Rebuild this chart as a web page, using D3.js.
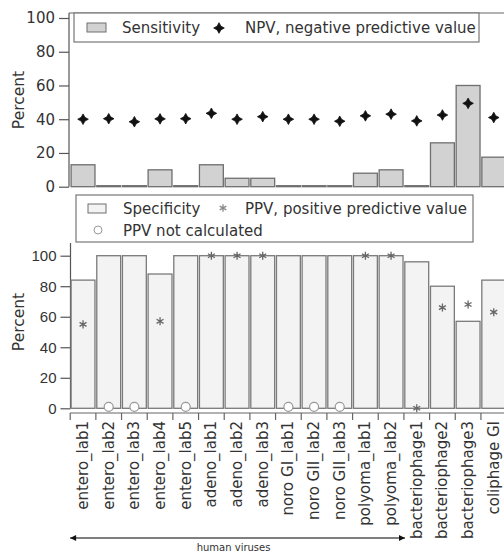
<!DOCTYPE html>
<html><head><meta charset="utf-8">
<script src="https://cdn.jsdelivr.net/npm/d3@7"></script>
<style>body{margin:0;background:#fff}svg{display:block;font-family:"DejaVu Sans",Verdana,sans-serif}</style>
</head><body>
<svg id="c" width="504" height="553"></svg>
<script>
const categories = ["entero_lab1","entero_lab2","entero_lab3","entero_lab4","entero_lab5","adeno_lab1","adeno_lab2","adeno_lab3","noro GI_lab1","noro GII_lab2","noro GII_lab3","polyoma_lab1","polyoma_lab2","bacteriophage1","bacteriophage2","bacteriophage3","coliphage GI"];
const sensitivity = [13,0,0,10,0,13,5,5,0,0,0,8,10,0,26,60,17.5];
const npv = [40,40.3,38.5,40.2,40.3,43.5,40,41.5,40,40,38.8,42,43,39,42.5,49.4,41];
const specificity = [84,100,100,88,100,100,100,100,100,100,100,100,100,96,80,57,84];
// null = PPV not calculated
const ppv = [55,null,null,57,null,100,100,100,null,null,null,100,100,0,66,68,63];
const yTicks = [0,20,40,60,80,100];

const svg = d3.select("#c");
const x = d3.scaleBand().domain(categories).range([70.2, 506.6]).paddingInner(0.07).paddingOuter(0.035);
const yTop = d3.scaleLinear().domain([0,100]).range([186.7, 18]);
const yBot = d3.scaleLinear().domain([0,100]).range([408.3, 255.7]);

// four-point star symbol for NPV
const star4 = { draw(ctx, size) {
  const R = Math.sqrt(size) * 0.75, r = R * 0.5;
  for (let k = 0; k < 8; k++) {
    const a = -Math.PI/2 + k*Math.PI/4, rr = k%2 ? r : R;
    const px = rr*Math.cos(a), py = rr*Math.sin(a);
    k ? ctx.lineTo(px,py) : ctx.moveTo(px,py);
  }
  ctx.closePath();
}};

// ---------- top panel ----------
const gTop = svg.append("g");
gTop.append("line").attr("x1",69).attr("x2",504).attr("y1",13).attr("y2",13).attr("stroke","#666").attr("stroke-width",1.2);
gTop.append("line").attr("x1",69).attr("x2",69).attr("y1",13).attr("y2",yTop(0)).attr("stroke","#555").attr("stroke-width",1.2);
const ta = gTop.append("g").attr("transform","translate(69,0)")
  .call(d3.axisLeft(yTop).tickValues(yTicks).tickSize(10).tickPadding(4));
ta.select(".domain").remove();
ta.selectAll("line").attr("stroke","#555").attr("stroke-width",1.2);
ta.selectAll("text").attr("font-size",15).attr("fill","#333").attr("font-family","DejaVu Sans");

gTop.selectAll("rect.sens").data(categories).join("rect").attr("class","sens")
  .attr("x", d=>x(d)).attr("width", x.bandwidth())
  .attr("y", (d,i)=>Math.min(yTop(sensitivity[i]), yTop(0)-1))
  .attr("height", (d,i)=>Math.max(1, yTop(0)-yTop(sensitivity[i])))
  .attr("fill","#d2d2d2").attr("stroke","#6f6f6f").attr("stroke-width",1.3);
gTop.selectAll("path.npv").data(categories).join("path").attr("class","npv")
  .attr("transform",(d,i)=>`translate(${x(d)+x.bandwidth()/2},${yTop(npv[i])})`)
  .attr("d", d3.symbol(star4, 50)).attr("fill","#111").attr("stroke","#111").attr("stroke-width",0.8);

gTop.append("text").attr("transform","translate(24,100) rotate(-90)").attr("text-anchor","middle")
  .attr("font-size",15.5).attr("fill","#333").text("Percent");

// legend top
const lt = gTop.append("g");
lt.append("rect").attr("x",74).attr("y",13).attr("width",405).attr("height",29).attr("fill","#fff").attr("stroke","#777").attr("stroke-width",1.2);
lt.append("rect").attr("x",87).attr("y",23).attr("width",19).attr("height",9).attr("fill","#d2d2d2").attr("stroke","#6f6f6f");
lt.append("text").attr("x",122).attr("y",33).attr("font-size",15).attr("fill","#333").text("Sensitivity");
lt.append("path").attr("transform","translate(219,28)").attr("d", d3.symbol(star4, 50)).attr("fill","#111").attr("stroke","#111").attr("stroke-width",0.8);
lt.append("text").attr("x",245).attr("y",33).attr("font-size",15).attr("fill","#333").text("NPV, negative predictive value");

// ---------- bottom panel ----------
const gBot = svg.append("g");
gBot.append("line").attr("x1",70.5).attr("x2",70.5).attr("y1",243).attr("y2",yBot(0)).attr("stroke","#555").attr("stroke-width",1.2);
const ba = gBot.append("g").attr("transform","translate(70.5,0)")
  .call(d3.axisLeft(yBot).tickValues(yTicks).tickSize(10).tickPadding(4));
ba.select(".domain").remove();
ba.selectAll("line").attr("stroke","#555").attr("stroke-width",1.2);
ba.selectAll("text").attr("font-size",15).attr("fill","#333");

gBot.selectAll("rect.spec").data(categories).join("rect").attr("class","spec")
  .attr("x", d=>x(d)).attr("width", x.bandwidth())
  .attr("y", (d,i)=>yBot(specificity[i]))
  .attr("height", (d,i)=>yBot(0)-yBot(specificity[i]))
  .attr("fill","#f3f3f3").attr("stroke","#7a7a7a").attr("stroke-width",1.3);

gBot.selectAll("path.ppv").data(categories.filter((d,i)=>ppv[i]!==null)).join("path").attr("class","ppv")
  .attr("transform",d=>`translate(${x(d)+x.bandwidth()/2},${yBot(ppv[categories.indexOf(d)])})`)
  .attr("d", d3.symbol(d3.symbolAsterisk, 45)).attr("fill","none").attr("stroke","#666").attr("stroke-width",1.3);
gBot.selectAll("circle.nc").data(categories.filter((d,i)=>ppv[i]===null)).join("circle").attr("class","nc")
  .attr("cx", d=>x(d)+x.bandwidth()/2).attr("cy", yBot(0)-1.5).attr("r",4.5)
  .attr("fill","#fff").attr("stroke","#999").attr("stroke-width",1.2);

gBot.append("text").attr("transform","translate(24,322) rotate(-90)").attr("text-anchor","middle")
  .attr("font-size",15.5).attr("fill","#333").text("Percent");

// x axis (band boundaries as ticks)
const xa = gBot.append("g").attr("transform","translate(0,413)");
xa.append("line").attr("x1",70).attr("x2",504).attr("stroke","#666").attr("stroke-width",1.2);
xa.selectAll("line.tk").data(categories).join("line").attr("class","tk")
  .attr("x1", d=>x(d)-x.step()*x.paddingInner()/2).attr("x2", d=>x(d)-x.step()*x.paddingInner()/2)
  .attr("y1",0).attr("y2",7).attr("stroke","#666").attr("stroke-width",1.2);
xa.selectAll("text").data(categories).join("text")
  .attr("transform", d=>`translate(${x(d)+x.bandwidth()/2+5},8) rotate(-90)`)
  .attr("text-anchor","end").attr("font-size",15).attr("fill","#333").text(d=>d);

// legend bottom
const lb = gBot.append("g");
lb.append("rect").attr("x",76).attr("y",195).attr("width",397).attr("height",47).attr("fill","#fff").attr("stroke","#777").attr("stroke-width",1.2);
lb.append("rect").attr("x",88).attr("y",204).attr("width",18).attr("height",9).attr("fill","#f3f3f3").attr("stroke","#6f6f6f");
lb.append("text").attr("x",123).attr("y",214).attr("font-size",15).attr("fill","#333").text("Specificity");
lb.append("path").attr("transform","translate(223,208)").attr("d", d3.symbol(d3.symbolAsterisk, 40)).attr("fill","none").attr("stroke","#888").attr("stroke-width",1.3);
lb.append("text").attr("x",245).attr("y",214).attr("font-size",15).attr("fill","#333").text("PPV, positive predictive value");
lb.append("circle").attr("cx",98).attr("cy",230).attr("r",4).attr("fill","#fff").attr("stroke","#999");
lb.append("text").attr("x",123).attr("y",236).attr("font-size",15).attr("fill","#333").text("PPV not calculated");

// arrow
const defs = svg.append("defs");
defs.append("marker").attr("id","ah").attr("viewBox","0 0 10 10").attr("refX",10).attr("refY",5)
  .attr("markerWidth",9).attr("markerHeight",6).attr("orient","auto-start-reverse").attr("markerUnits","userSpaceOnUse")
  .append("path").attr("d","M0,0L10,5L0,10Z").attr("fill","#111");
const xFirst = x(categories[0]) - 1, xLast = x("polyoma_lab2") + x.bandwidth() + 2;
svg.append("line").attr("x1",xFirst).attr("x2",xLast).attr("y1",538).attr("y2",538)
  .attr("stroke","#555").attr("stroke-width",1.3).attr("marker-start","url(#ah)").attr("marker-end","url(#ah)");
svg.append("text").attr("x",(xFirst+xLast)/2 - 4).attr("y",551).attr("text-anchor","middle").attr("font-size",10).attr("fill","#333").text("human viruses");
</script>
</body></html>
